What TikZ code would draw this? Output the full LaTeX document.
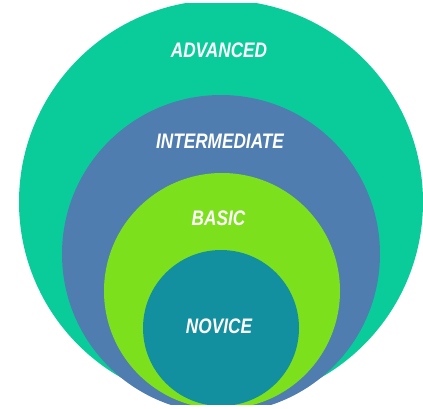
\documentclass[tikz,border=0pt]{standalone}
\usepackage{fontspec}
\setmainfont{Liberation Sans}
\definecolor{cadv}{RGB}{10,204,154}
\definecolor{cint}{RGB}{80,125,176}
\definecolor{cbas}{RGB}{125,224,28}
\definecolor{cnov}{RGB}{18,144,160}
\tikzset{
  lvl/.style={text=white, inner sep=0pt, font=\fontsize{21}{21}\selectfont\bfseries\itshape},
}
\newcommand{\lvltext}[1]{\scalebox{0.82}[1]{#1}}
\begin{document}
\begin{tikzpicture}[x=1pt,y=1pt]
\useasboundingbox (0,0) rectangle (423,408);
\fill[white] (0,0) rectangle (423,408);
\begin{scope}
\clip (0,4) rectangle (423,404);
\fill[cadv] (221,206) circle (202);
\fill[cint] (221,154) circle (159);
\fill[cbas] (222,117) circle (118);
\fill[cnov] (221,80) circle (78);
\end{scope}
\node[lvl] (adv) at (219,357.5) {\lvltext{ADVANCED}};
\node[lvl] (int) at (220,267) {\lvltext{INTERMEDIATE}};
\node[lvl] (bas) at (218.5,190) {\lvltext{BASIC}};
\node[lvl] (nov) at (219,82) {\lvltext{NOVICE}};
\end{tikzpicture}
\end{document}
